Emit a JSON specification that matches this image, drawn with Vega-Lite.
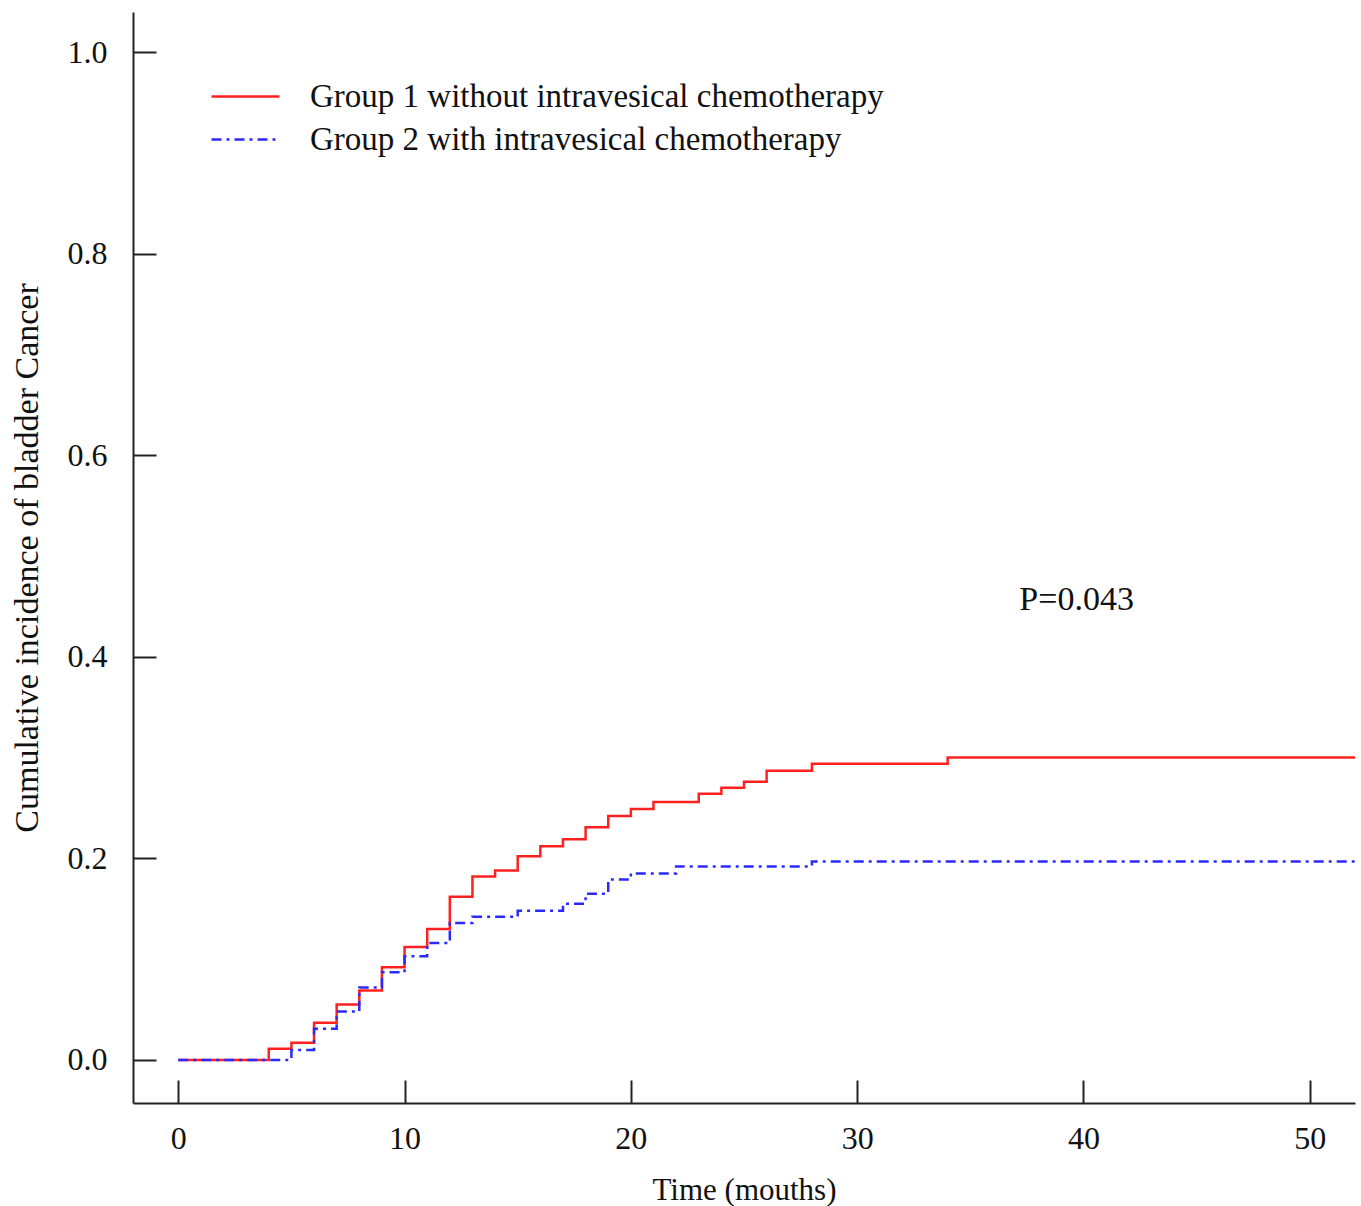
{
  "$schema": "https://vega.github.io/schema/vega-lite/v6.json",
  "width": 1222,
  "height": 1091,
  "autosize": "none",
  "padding": {"left": 133, "top": 12, "right": 6, "bottom": 103},
  "background": "white",
  "config": {
    "view": {"stroke": null},
    "font": "Liberation Serif",
    "axis": {"grid": false, "domainColor": "#222", "domainWidth": 2, "tickColor": "#222", "tickWidth": 2,
             "labelFont": "Liberation Serif", "titleFont": "Liberation Serif", "labelColor": "#111", "titleColor": "#111",
             "labelFontSize": 32, "titleFontSize": 31, "titleFontWeight": "normal"}
  },
  "datasets": {
    "curves": [
      {"group": "Group 1 without intravesical chemotherapy", "t": 0, "ci": 0},
      {"group": "Group 1 without intravesical chemotherapy", "t": 4, "ci": 0.011},
      {"group": "Group 1 without intravesical chemotherapy", "t": 5, "ci": 0.017},
      {"group": "Group 1 without intravesical chemotherapy", "t": 6, "ci": 0.037},
      {"group": "Group 1 without intravesical chemotherapy", "t": 7, "ci": 0.055},
      {"group": "Group 1 without intravesical chemotherapy", "t": 8, "ci": 0.069},
      {"group": "Group 1 without intravesical chemotherapy", "t": 9, "ci": 0.092},
      {"group": "Group 1 without intravesical chemotherapy", "t": 10, "ci": 0.112},
      {"group": "Group 1 without intravesical chemotherapy", "t": 11, "ci": 0.130},
      {"group": "Group 1 without intravesical chemotherapy", "t": 12, "ci": 0.162},
      {"group": "Group 1 without intravesical chemotherapy", "t": 13, "ci": 0.182},
      {"group": "Group 1 without intravesical chemotherapy", "t": 14, "ci": 0.188},
      {"group": "Group 1 without intravesical chemotherapy", "t": 15, "ci": 0.202},
      {"group": "Group 1 without intravesical chemotherapy", "t": 16, "ci": 0.212},
      {"group": "Group 1 without intravesical chemotherapy", "t": 17, "ci": 0.219},
      {"group": "Group 1 without intravesical chemotherapy", "t": 18, "ci": 0.231},
      {"group": "Group 1 without intravesical chemotherapy", "t": 19, "ci": 0.242},
      {"group": "Group 1 without intravesical chemotherapy", "t": 20, "ci": 0.249},
      {"group": "Group 1 without intravesical chemotherapy", "t": 21, "ci": 0.256},
      {"group": "Group 1 without intravesical chemotherapy", "t": 23, "ci": 0.264},
      {"group": "Group 1 without intravesical chemotherapy", "t": 24, "ci": 0.270},
      {"group": "Group 1 without intravesical chemotherapy", "t": 25, "ci": 0.276},
      {"group": "Group 1 without intravesical chemotherapy", "t": 26, "ci": 0.287},
      {"group": "Group 1 without intravesical chemotherapy", "t": 28, "ci": 0.294},
      {"group": "Group 1 without intravesical chemotherapy", "t": 34, "ci": 0.300},
      {"group": "Group 1 without intravesical chemotherapy", "t": 52, "ci": 0.300},
      {"group": "Group 2 with intravesical chemotherapy", "t": 0, "ci": 0},
      {"group": "Group 2 with intravesical chemotherapy", "t": 5, "ci": 0.010},
      {"group": "Group 2 with intravesical chemotherapy", "t": 6, "ci": 0.031},
      {"group": "Group 2 with intravesical chemotherapy", "t": 7, "ci": 0.048},
      {"group": "Group 2 with intravesical chemotherapy", "t": 8, "ci": 0.072},
      {"group": "Group 2 with intravesical chemotherapy", "t": 9, "ci": 0.087},
      {"group": "Group 2 with intravesical chemotherapy", "t": 10, "ci": 0.103},
      {"group": "Group 2 with intravesical chemotherapy", "t": 11, "ci": 0.116},
      {"group": "Group 2 with intravesical chemotherapy", "t": 12, "ci": 0.136},
      {"group": "Group 2 with intravesical chemotherapy", "t": 13, "ci": 0.142},
      {"group": "Group 2 with intravesical chemotherapy", "t": 15, "ci": 0.148},
      {"group": "Group 2 with intravesical chemotherapy", "t": 17, "ci": 0.155},
      {"group": "Group 2 with intravesical chemotherapy", "t": 18, "ci": 0.165},
      {"group": "Group 2 with intravesical chemotherapy", "t": 19, "ci": 0.179},
      {"group": "Group 2 with intravesical chemotherapy", "t": 20, "ci": 0.185},
      {"group": "Group 2 with intravesical chemotherapy", "t": 22, "ci": 0.192},
      {"group": "Group 2 with intravesical chemotherapy", "t": 28, "ci": 0.197},
      {"group": "Group 2 with intravesical chemotherapy", "t": 52, "ci": 0.197}
    ],
    "annot": [{"t": 39.7, "ci": 0.456, "label": "P=0.043"}]
  },
  "layer": [
    {
      "data": {"name": "curves"},
      "mark": {"type": "line", "interpolate": "step-after", "strokeWidth": 2.5, "clip": true},
      "encoding": {
        "x": {"field": "t", "type": "quantitative", "scale": {"domain": [-2, 52], "nice": false, "zero": false},
              "axis": {"values": [0, 10, 20, 30, 40, 50], "title": "Time (mouths)", "tickSize": -23, "labelPadding": 43, "titlePadding": 21}},
        "y": {"field": "ci", "type": "quantitative", "scale": {"domain": [-0.0427, 1.0397], "nice": false, "zero": false},
              "axis": {"values": [0, 0.2, 0.4, 0.6, 0.8, 1.0], "format": ".1f", "title": "Cumulative incidence of bladder Cancer", "titleFontSize": 34, "tickSize": -23, "labelPadding": 49, "titlePadding": 23}},
        "color": {"field": "group", "type": "nominal",
                  "scale": {"domain": ["Group 1 without intravesical chemotherapy", "Group 2 with intravesical chemotherapy"], "range": ["#ff2020", "#2a2aff"]},
                  "legend": {"orient": "none", "legendX": 77, "legendY": 63, "title": null, "symbolType": "stroke", "symbolSize": 4624,
                             "symbolStrokeWidth": 2.5, "labelFont": "Liberation Serif", "labelFontSize": 33, "labelColor": "#111",
                             "labelOffset": 29, "labelLimit": 1000, "rowPadding": 0, "clipHeight": 43}},
        "strokeDash": {"field": "group", "type": "nominal",
                       "scale": {"domain": ["Group 1 without intravesical chemotherapy", "Group 2 with intravesical chemotherapy"], "range": [[1, 0], [10, 5, 3, 5]]},
                       "legend": {"orient": "none", "legendX": 77, "legendY": 63, "title": null, "symbolType": "stroke", "symbolSize": 4624,
                             "symbolStrokeWidth": 2.5, "labelFont": "Liberation Serif", "labelFontSize": 33, "labelColor": "#111",
                             "labelOffset": 29, "labelLimit": 1000, "rowPadding": 0, "clipHeight": 43}}
      }
    },
    {
      "data": {"name": "annot"},
      "mark": {"type": "text", "font": "Liberation Serif", "fontSize": 34, "color": "#111", "align": "center", "baseline": "middle"},
      "encoding": {
        "x": {"field": "t", "type": "quantitative"},
        "y": {"field": "ci", "type": "quantitative"},
        "text": {"field": "label"}
      }
    }
  ]
}
